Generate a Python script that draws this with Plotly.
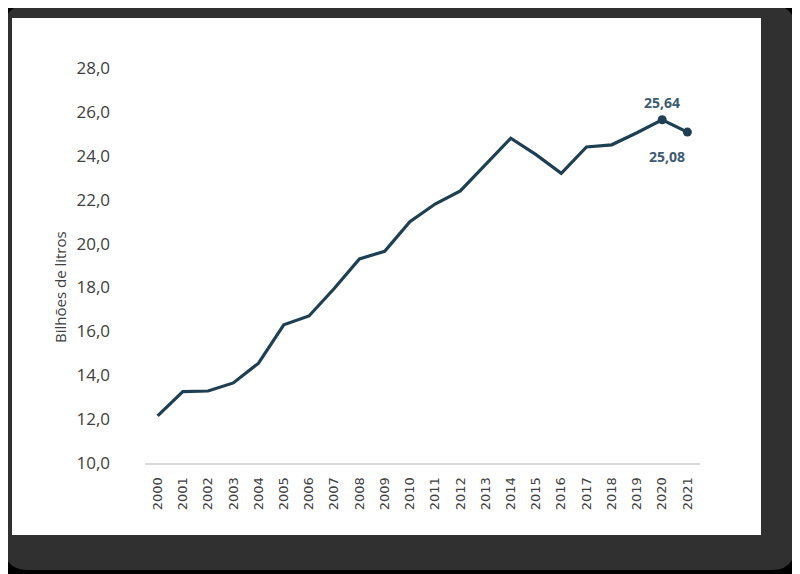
import plotly.graph_objects as go

years = [str(y) for y in range(2000, 2022)]
values = [12.15, 13.25, 13.28, 13.65, 14.55, 16.3, 16.7, 17.95, 19.3, 19.65,
          21.0, 21.8, 22.4, 23.6, 24.8, 24.05, 23.2, 24.4, 24.5, 25.05,
          25.64, 25.08]
y_ticks = [10, 12, 14, 16, 18, 20, 22, 24, 26, 28]
y_tick_text = [f"{v},0" for v in y_ticks]
labeled_idx = [20, 21]
y_title = "Bilhões de litros"

# page has an 8px body margin; work in reference pixels and shift
OFF = 8
W, H = 800 - OFF, 574 - OFF
L, R, T, B = 145 - OFF, 100, 68 - OFF, 111
pw, ph = W - L - R, H - T - B

def px(x):
    return (x - OFF - L) / pw

def py(y):
    return (H - B - (y - OFF)) / ph

line_color = "#1f3f52"
label_color = "#3e5c70"
font_family = "Open Sans, Noto Sans, sans-serif"

fig = go.Figure()
fig.add_trace(go.Scatter(x=years, y=values, mode="lines",
                         line=dict(color=line_color, width=3.2),
                         hoverinfo="skip", showlegend=False))
fig.add_trace(go.Scatter(x=[years[i] for i in labeled_idx],
                         y=[values[i] for i in labeled_idx], mode="markers",
                         marker=dict(color=line_color, size=9),
                         hoverinfo="skip", showlegend=False))

# value labels (x given as category index)
shifts = {20: (0, 17), 21: (-20, -24)}
for i in labeled_idx:
    xs, ys = shifts[i]
    fig.add_annotation(x=i, y=values[i], xref="x", yref="y",
                       text=f"{values[i]:.2f}".replace(".", ","),
                       showarrow=False, xshift=xs, yshift=ys,
                       font=dict(size=14, color=label_color, family=font_family,
                                 weight="bold"))

# y-axis title as rotated annotation
fig.add_annotation(x=px(60), y=py(287), xref="paper", yref="paper", text=y_title,
                   textangle=-90, showarrow=False, xanchor="center", yanchor="middle",
                   font=dict(size=15, color="#404040", family=font_family))

# frame shapes
def rounded(x0, y0, x1, y1, r):
    X0, X1 = px(x0), px(x1)
    Y0, Y1 = py(y0), py(y1)
    rx, ry = r / pw, r / ph
    return (f"M{X0+rx},{Y0} L{X1-rx},{Y0} Q{X1},{Y0} {X1},{Y0-ry} "
            f"L{X1},{Y1+ry} Q{X1},{Y1} {X1-rx},{Y1} L{X0+rx},{Y1} "
            f"Q{X0},{Y1} {X0},{Y1+ry} L{X0},{Y0-ry} Q{X0},{Y0} {X0+rx},{Y0} Z")

fig.add_shape(type="path", path=rounded(4, 5, 795, 570, 24), xref="paper", yref="paper",
              fillcolor="#303030", line=dict(width=0), layer="below")
fig.add_shape(type="rect", x0=px(12), x1=px(761), y0=py(18), y1=py(535),
              xref="paper", yref="paper", fillcolor="white", line=dict(width=0),
              layer="below")

fig.update_layout(
    width=W, height=H,
    margin=dict(l=L, r=R, t=T, b=B),
    paper_bgcolor="#000000",
    plot_bgcolor="rgba(0,0,0,0)",
    font=dict(family=font_family, color="#404040"),
    xaxis=dict(type="category", range=[-0.5, 21.5], tickangle=-90,
               tickfont=dict(size=13, color="#404040", family="DejaVu Sans"),
               showgrid=False, showline=True, linecolor="#d9d9d9", linewidth=2,
               ticks="", zeroline=False, ticklabelstandoff=7),
    yaxis=dict(range=[10, 28], tickvals=y_ticks, ticktext=y_tick_text,
               tickfont=dict(size=17, color="#404040"), showgrid=False,
               showline=False, zeroline=False, ticks="", ticklabelstandoff=34),
)

fig.write_html("out.html")
